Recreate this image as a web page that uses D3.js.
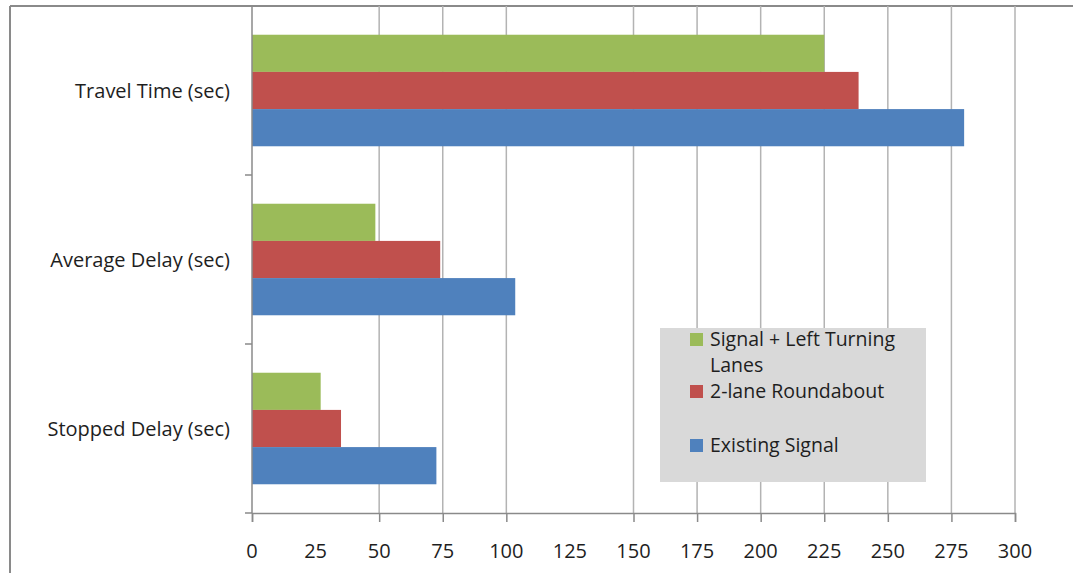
<!DOCTYPE html>
<html lang="en">
<head>
    <meta charset="UTF-8">
    <title>Delay comparison</title>
    <script src="https://d3js.org/d3.v7.min.js"></script>
    <style>
        body { margin: 0; background: #fff; }
        text { font-family: "Open Sans", Lato, sans-serif; fill: #1e1e1e; }
    </style>
</head>
<body>
    <svg id="chart" width="1073" height="573"></svg>
    <script>
        const categories = ["Travel Time (sec)", "Average Delay (sec)", "Stopped Delay (sec)"];
        const seriesNames = ["Signal + Left Turning Lanes", "2-lane Roundabout", "Existing Signal"];
        const signalLeft = [225, 48.5, 27];
        const roundabout = [238.5, 74, 35];
        const existing = [280, 103.5, 72.5];
        const xTicks = [0, 25, 50, 75, 100, 125, 150, 175, 200, 225, 250, 275, 300];
        // gridlines at 25 and 125 are not visible in the original
        const gridTicks = [50, 75, 100, 150, 175, 200, 225, 250, 275, 300];
        const colors = ["#9bbb59", "#c0504d", "#4f81bd"];

        const seriesValues = [signalLeft, roundabout, existing];
        const fontSize = 20;

        const svg = d3.select("#chart");
        const margin = { left: 252, right: 58, top: 6, bottom: 60 };
        const width = 1073 - margin.left - margin.right;
        const height = 573 - margin.top - margin.bottom;

        // outer frame (top and left edges only in view)
        svg.append("line").attr("x1", 10).attr("x2", 1073).attr("y1", 6).attr("y2", 6)
            .attr("stroke", "#8a8a8a").attr("stroke-width", 2);
        svg.append("line").attr("x1", 10).attr("x2", 10).attr("y1", 6).attr("y2", 573)
            .attr("stroke", "#8a8a8a").attr("stroke-width", 2);

        const g = svg.append("g").attr("transform", `translate(${margin.left},${margin.top})`);

        const x = d3.scaleLinear().domain([0, 300]).range([0, width]);
        const y = d3.scaleBand().domain(categories).range([0, height]).paddingInner(0.34).paddingOuter(0.17);
        const ySub = d3.scaleBand().domain(seriesNames).range([0, y.bandwidth()]);

        g.selectAll(".grid")
            .data(gridTicks)
            .enter()
            .append("line")
            .attr("class", "grid")
            .attr("x1", d => x(d))
            .attr("x2", d => x(d))
            .attr("y1", 0)
            .attr("y2", height)
            .attr("stroke", "#b3b3b3")
            .attr("stroke-width", 1.5);

        const groups = g.selectAll(".cat")
            .data(categories)
            .enter()
            .append("g")
            .attr("class", "cat")
            .attr("transform", d => `translate(0,${y(d)})`);

        groups.selectAll("rect")
            .data((d, i) => seriesNames.map((s, j) => ({ s, v: seriesValues[j][i], c: colors[j] })))
            .enter()
            .append("rect")
            .attr("x", 0)
            .attr("y", d => ySub(d.s))
            .attr("width", d => x(d.v))
            .attr("height", ySub.bandwidth())
            .attr("fill", d => d.c);

        // x axis
        const xAxis = g.append("g")
            .attr("transform", `translate(0,${height})`)
            .call(d3.axisBottom(x).tickValues(xTicks.filter(t => t !== 25 && t !== 125)).tickSize(9).tickFormat(""));
        xAxis.select(".domain").attr("stroke", "#8a8a8a").attr("stroke-width", 1.5);
        xAxis.selectAll(".tick line").attr("stroke", "#8a8a8a").attr("stroke-width", 1.5);

        g.selectAll(".xlabel")
            .data(xTicks)
            .enter()
            .append("text")
            .attr("class", "xlabel")
            .attr("x", d => x(d))
            .attr("y", height + 45)
            .attr("text-anchor", "middle")
            .attr("font-size", fontSize)
            .text(d => d);

        // y axis
        const yTickPos = [0, height / 3, 2 * height / 3, height];
        g.append("line").attr("x1", 0).attr("x2", 0).attr("y1", 0).attr("y2", height)
            .attr("stroke", "#8a8a8a").attr("stroke-width", 1.5);
        g.selectAll(".ytick")
            .data(yTickPos.slice(1))
            .enter()
            .append("line")
            .attr("x1", -7).attr("x2", 0)
            .attr("y1", d => d).attr("y2", d => d)
            .attr("stroke", "#8a8a8a").attr("stroke-width", 1.5);

        g.selectAll(".ylabel")
            .data(categories)
            .enter()
            .append("text")
            .attr("x", -22)
            .attr("y", d => y(d) + y.bandwidth() / 2)
            .attr("dy", "0.35em")
            .attr("text-anchor", "end")
            .attr("font-size", fontSize)
            .text(d => d);

        // legend
        const legend = svg.append("g").attr("transform", "translate(660,328)");
        legend.append("rect").attr("width", 266).attr("height", 154).attr("fill", "#d9d9d9");
        const legendRows = [
            { lines: ["Signal + Left Turning", "Lanes"], y: 18 },
            { lines: ["2-lane Roundabout"], y: 70 },
            { lines: ["Existing Signal"], y: 124 }
        ];
        legendRows.forEach((r, i) => {
            legend.append("rect")
                .attr("x", 30).attr("y", r.y - 13)
                .attr("width", 13).attr("height", 13)
                .attr("fill", colors[i]);
            r.lines.forEach((ln, k) => {
                legend.append("text")
                    .attr("x", 50)
                    .attr("y", r.y + k * 26)
                    .attr("font-size", 19.5)
                    .text(ln);
            });
        });
    </script>
</body>
</html>
